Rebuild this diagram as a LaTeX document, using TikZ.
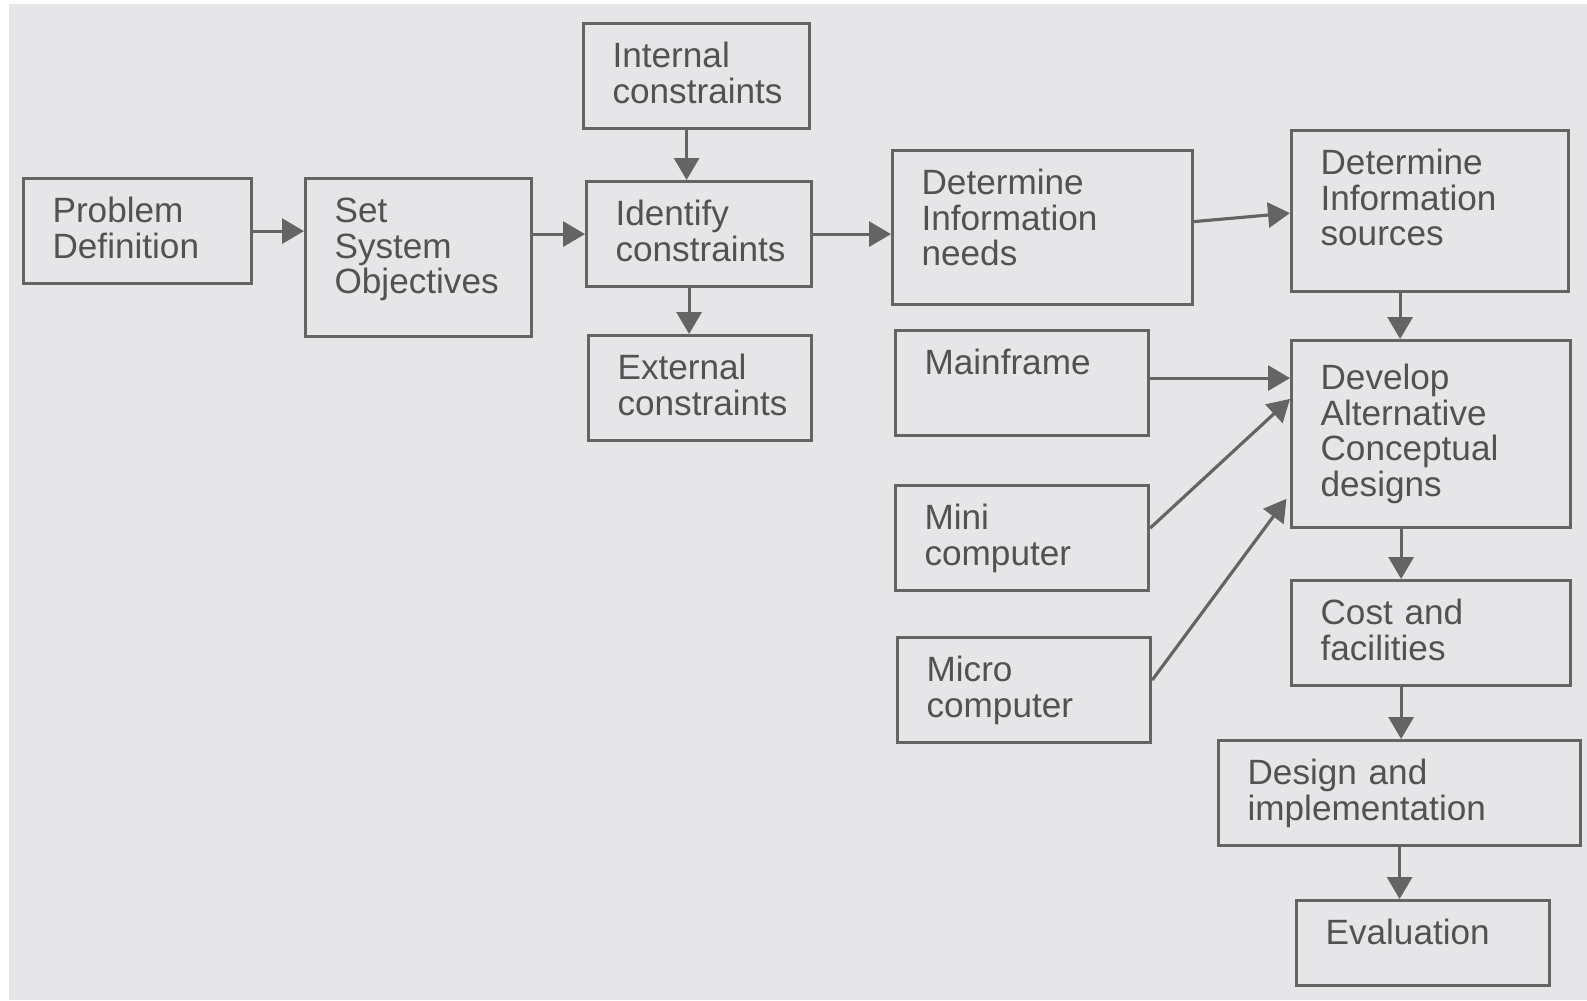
\documentclass[tikz,border=0pt]{standalone}
\usepackage{fontspec}
\setmainfont{Liberation Sans}
\usepackage{tikz}
\usetikzlibrary{positioning,arrows.meta,calc}
\definecolor{paper}{RGB}{230,230,232}
\definecolor{ink}{RGB}{100,100,100}
\definecolor{inktext}{RGB}{82,82,82}

\begin{document}
\begin{tikzpicture}[x=0.1mm, y=-0.1mm, >={Triangle[length=2.2mm, width=2.5mm]},
  blk/.style={draw=ink, line width=0.9pt, anchor=north west, align=left, text=inktext,
              font=\fontsize{10}{10.1}\selectfont, inner xsep=2.9mm, inner ysep=0pt,
              text height=4.4mm, text depth=6.1mm},
  conn/.style={->, draw=ink, fill=ink, line width=0.9pt}]
  \fill[white] (0,0) rectangle (1587,1000);
  \fill[paper] (9,4) rectangle (1587,1000);
  \useasboundingbox (0,0) rectangle (1587,1000);
  % left column
  \node[blk, text width=17mm]   (pd)  at (22,177)  {Problem\\Definition};
  \node[blk, text width=16.8mm, text depth=11.4mm] (sso) at (304,177) {Set\\System\\Objectives};
  % constraints
  \node[blk, text width=16.8mm] (int) at (582,22)  {Internal\\constraints};
  \node[blk, text width=16.7mm] (ic)  at (585,180) {Identify\\constraints};
  \node[blk, text width=16.5mm] (ext) at (587,334) {External\\constraints};
  % information and hardware
  \node[blk, text width=24.2mm, text depth=11mm] (din) at (891,149) {Determine\\Information\\needs};
  \node[blk, text width=19.5mm] (mf)    at (894,329) {Mainframe};
  \node[blk, text width=19.5mm] (mini)  at (894,484) {Mini\\computer};
  \node[blk, text width=19.5mm] (micro) at (896,636) {Micro\\computer};
  % right column
  \node[blk, text width=21.9mm, text depth=11.7mm] (dis) at (1290,129) {Determine\\Information\\sources};
  \node[blk, text width=22.1mm, text height=4.9mm, text depth=13.8mm] (dev) at (1290,339) {Develop\\Alternative\\Conceptual\\designs};
  \node[blk, text width=22.1mm] (cost) at (1290,579) {Cost and\\facilities};
  \node[blk, text width=30.4mm] (dai)  at (1217,739) {Design and\\implementation};
  \node[blk, text width=19.5mm, text depth=4.1mm] (ev) at (1295,899) {Evaluation};
  % connectors
  \draw[conn] (pd.east) -- (pd.east -| sso.west);
  \draw[conn] (ic.west -| sso.east) -- (ic.west);
  \draw[conn] ([xshift=-1mm]int.south) -- ([xshift=-1mm]int.south |- ic.north);
  \draw[conn] ([xshift=-1mm]ic.south) -- ([xshift=-1mm]ic.south |- ext.north);
  \draw[conn] (ic.east) -- (ic.east -| din.west);
  \draw[conn] ([yshift=0.6mm]din.east) -- ([yshift=-0.2mm]dis.west);
  \draw[conn] ([xshift=-3mm]dis.south) -- ([xshift=-3mm]dis.south |- dev.north);
  \draw[conn] ([yshift=0.5mm]mf.east) -- ([yshift=0.5mm]mf.east -| dev.west);
  \draw[conn] ([yshift=1mm]mini.east) -- (dev.166);
  \draw[conn, shorten >=0.6mm] ([yshift=1mm]micro.east) -- (dev.203);
  \draw[conn] ([xshift=-3mm]dev.south) -- ([xshift=-3mm]dev.south |- cost.north);
  \draw[conn] ([xshift=-3mm]cost.south) -- ([xshift=-3mm]cost.south |- dai.north);
  \draw[conn] (dai.south) -- (dai.south |- ev.north);
\end{tikzpicture}
\end{document}
